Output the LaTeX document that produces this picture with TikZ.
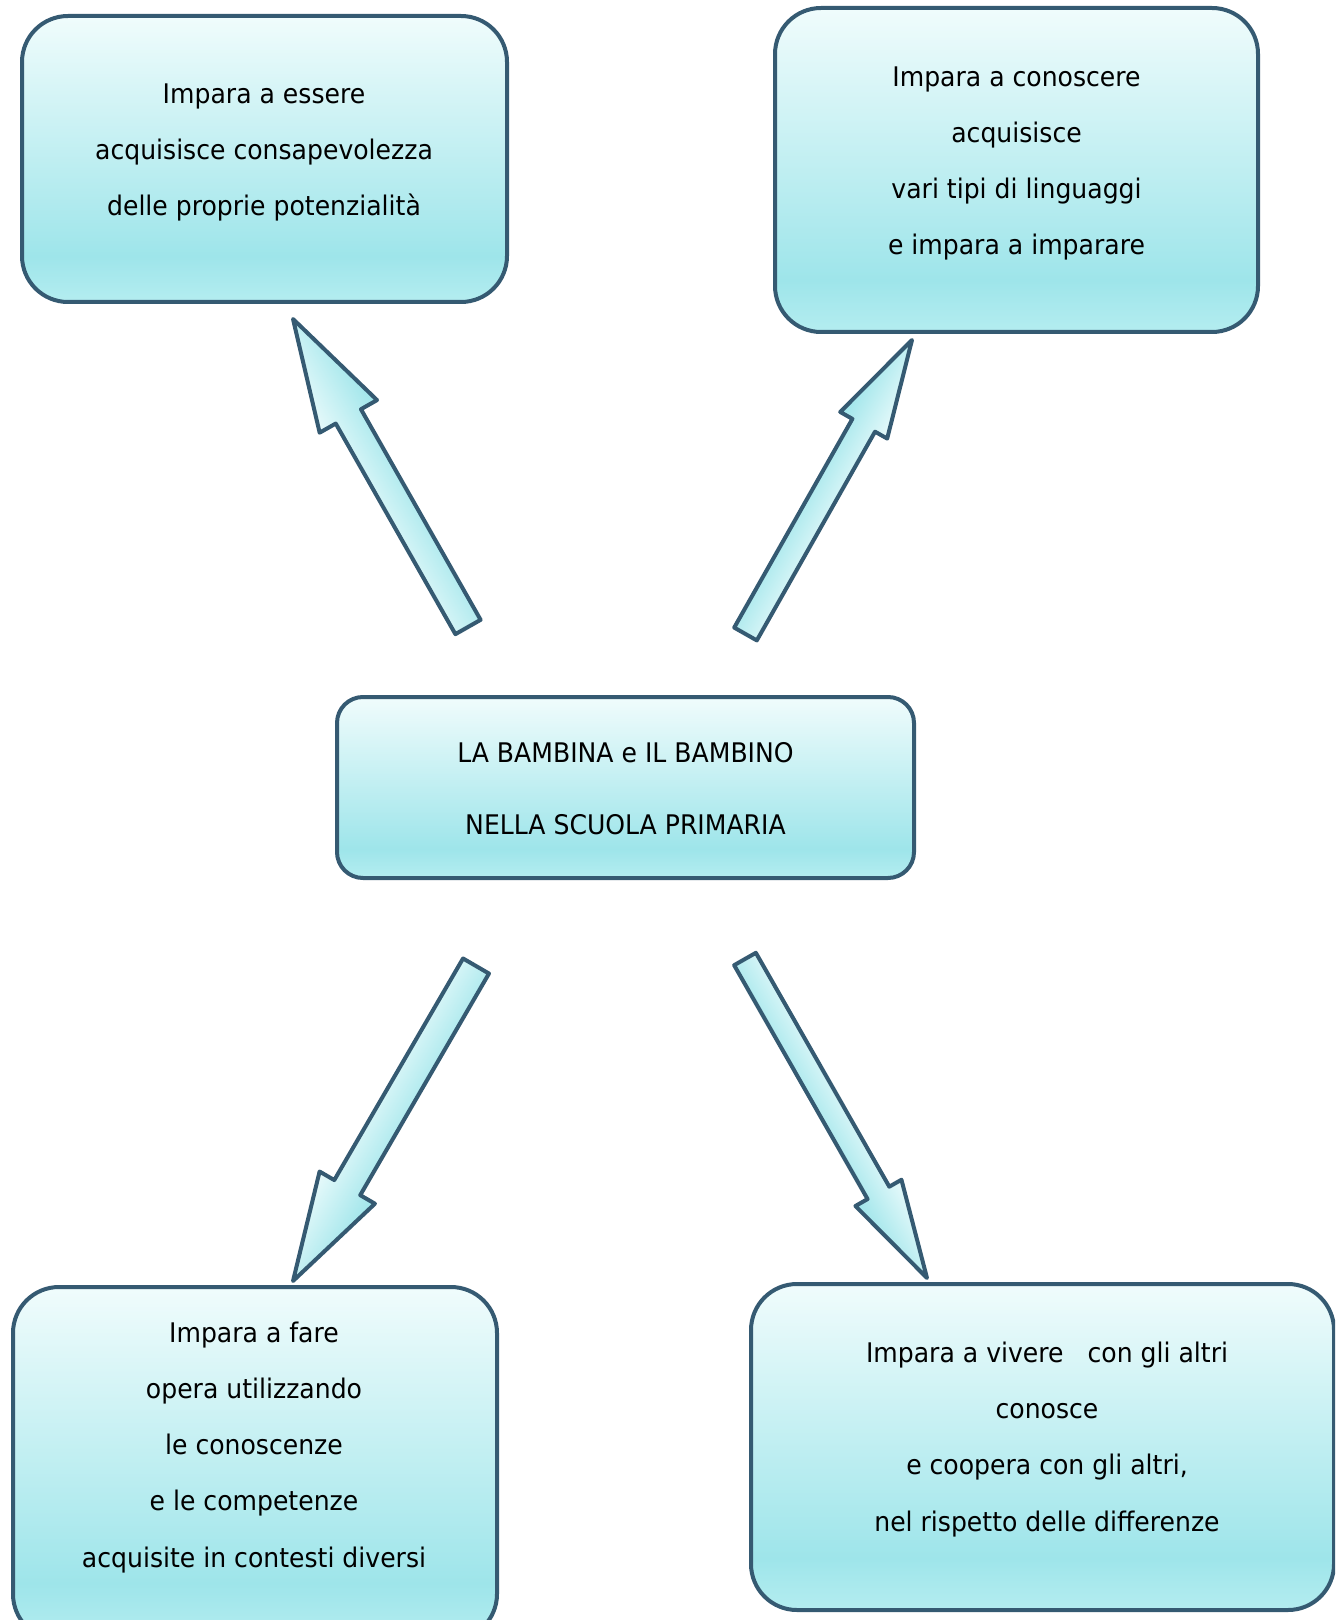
\documentclass[tikz,border=0pt]{standalone}
\usepackage{fontspec}
\setmainfont{DejaVu Sans}[FakeStretch=0.93]
\usetikzlibrary{calc}

\definecolor{edge}{RGB}{53,90,114}
\definecolor{cyanlight}{RGB}{240,252,252}
\definecolor{cyandark}{RGB}{158,229,234}
\definecolor{cyanfoot}{RGB}{180,237,240}
\definecolor{arrowlight}{RGB}{232,250,251}

% vertical fill of the rounded boxes: pale at the top, cyan near the foot
\pgfdeclareverticalshading{bubblefill}{100bp}{color(0bp)=(cyanfoot); color(25bp)=(cyanfoot); color(33bp)=(cyandark); color(75bp)=(cyanlight); color(100bp)=(cyanlight)}

\tikzset{
  bubble/.style={draw=edge, line width=2pt, shading=bubblefill, rounded corners=23pt, inner sep=0pt},
  % anchored at the baseline of the last line
  caption/.style={align=center, anchor=base, inner sep=0pt, text=black,
                  font=\fontsize{13.5}{28.1}\selectfont},
  blockarrow/.style={draw=edge, line width=2pt, line join=round},
}

% block arrow from #1 (tail) to #2 (tip):
% #3 shaft half width, #4 head half width, #5 head length, #6 shading of the two sides
\newcommand\thickarrow[6]{%
  \path let \p1=($(#2)-(#1)$) in \pgfextra{%
    \pgfmathsetmacro\tmplen{veclen(\x1,\y1)}%
    \pgfmathsetmacro\tmpang{atan2(\y1,\x1)}%
    \global\let\arrLen\tmplen \global\let\arrAng\tmpang};
  \begin{scope}[transform canvas={shift={(#1)},rotate=\arrAng}]
    \shade[blockarrow,#6] (0pt,-#3) -- ({\arrLen pt-#5},-#3) -- ({\arrLen pt-#5},-#4)
      -- (\arrLen pt,0pt) -- ({\arrLen pt-#5},#4) -- ({\arrLen pt-#5},#3) -- (0pt,#3) -- cycle;
  \end{scope}}

\begin{document}
\begin{tikzpicture}[x=0.5pt,y=-0.5pt]
\useasboundingbox (0,0) rectangle (1335,1620);
\clip (0,0) rectangle (1335,1620);

% boxes
\node[bubble, minimum width=242.5pt, minimum height=143pt] (essere) at (264.5,159) {};
\node[bubble, minimum width=241.5pt, minimum height=162pt] (conoscere) at (1016.5,170) {};
\node[bubble, rounded corners=13pt, minimum width=288.5pt, minimum height=90.5pt] (centro) at (625.5,787.5) {};
\node[bubble, minimum width=242pt, minimum height=176.5pt] (fare) at (255,1463.5) {};
\node[bubble, minimum width=291.5pt, minimum height=163pt] (vivere) at (1042.5,1447) {};

% texts
\node[caption] (essereT) at (264,216) {Impara a essere\\acquisisce consapevolezza\\delle proprie potenzialità};
\node[caption] (conoscereT) at (1016.5,255) {Impara a conoscere\\acquisisce\\vari tipi di linguaggi\\e impara a imparare};
\node[caption, font=\fontsize{13.5}{36}\selectfont] (centroT) at (625.5,834) {LA BAMBINA e IL BAMBINO\\NELLA SCUOLA PRIMARIA};
\node[caption] (fareT) at (254,1567) {Impara a fare\\opera utilizzando\\le conoscenze\\e le competenze\\acquisite in contesti diversi};
\node[caption] (vivereT) at (1047,1531) {Impara a vivere\ \ \ con gli altri\\conosce\\e coopera con gli altri,\\nel rispetto delle differenze};

% arrow ends
\coordinate (a1s) at (468,627);  \coordinate (a1e) at (293,319);
\coordinate (a2s) at (745.5,634); \coordinate (a2e) at (912,340);
\coordinate (a3s) at (476,966);  \coordinate (a3e) at (293,1281);
\coordinate (a4s) at (745,959);  \coordinate (a4e) at (927,1278);

\thickarrow{a1s}{a1e}{7.25pt}{16.5pt}{56pt}{top color=arrowlight, bottom color=cyandark}
\thickarrow{a2s}{a2e}{6.5pt}{13.5pt}{49pt}{top color=cyandark, bottom color=arrowlight}
\thickarrow{a3s}{a3e}{7.5pt}{16pt}{54pt}{top color=cyandark, bottom color=arrowlight}
\thickarrow{a4s}{a4e}{6.25pt}{13.25pt}{49pt}{top color=arrowlight, bottom color=cyandark}
\end{tikzpicture}
\end{document}
